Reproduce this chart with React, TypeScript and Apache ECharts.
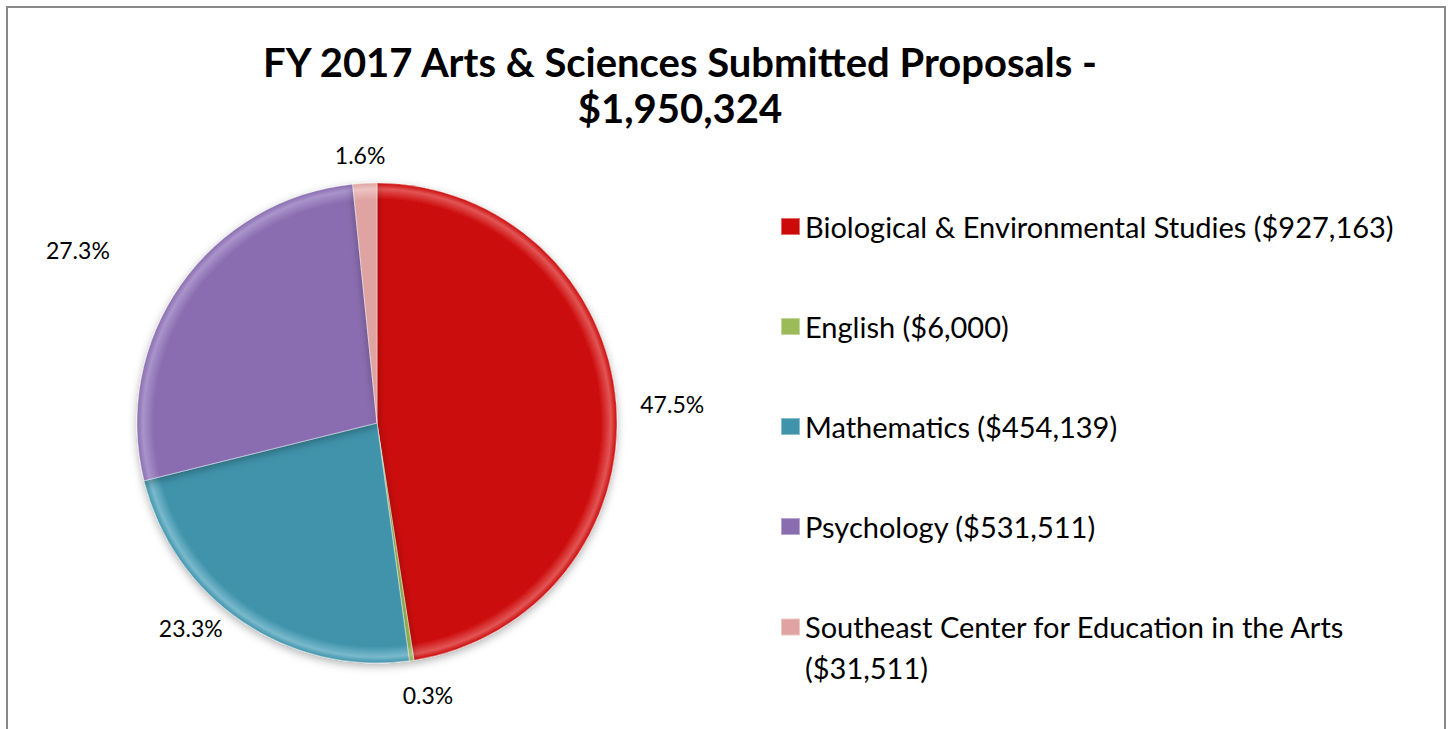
import React, { useEffect, useRef } from "react";
import * as echarts from "echarts";

const titleLines = ["FY 2017 Arts & Sciences Submitted Proposals -", "$1,950,324"];
const categories = [
  "Biological & Environmental Studies",
  "English",
  "Mathematics",
  "Psychology",
  "Southeast Center for Education in the Arts",
];
const amounts = [927163, 6000, 454139, 531511, 31511];
const sliceColors = ["#CC0A0A", "#9BBB59", "#3F93AB", "#8A6DB0", "#DFA3A1"];
const rimColors = ["#E25555", "#B9D48A", "#79B9CC", "#A994CB", "#EDC4C3"];

// label placement tweaks (label line lengths / distance), per slice
const labelTweaks = [
  { len: 0, len2: 19, dist: 5 },
  { len: 35, len2: 0, dist: -14 },
  { len: 8, len2: 10, dist: 5 },
  { len: 61, len2: 16, dist: 5 },
  { len: 28, len2: 0, dist: -22 },
];

const FONT = "Lato, 'Liberation Sans', sans-serif";
const PIE_CX = 377;
const PIE_CY = 423;
const PIE_R = 240;

function fmtMoney(v: number) {
  return "$" + v.toLocaleString("en-US");
}

export default function App() {
  const ref = useRef<HTMLDivElement>(null);
  useEffect(() => {
    if (!ref.current) return;
    const chart = echarts.init(ref.current, undefined, { renderer: "svg" });
    const valueByName: Record<string, number> = {};
    categories.forEach((c, i) => (valueByName[c] = amounts[i]));
    chart.setOption({
      animation: false,
      backgroundColor: "transparent",
      title: {
        text: titleLines.join("\n"),
        left: 680,
        top: 39,
        padding: 0,
        textAlign: "center",
        textStyle: {
          fontFamily: FONT,
          fontWeight: "bold",
          fontSize: 40,
          lineHeight: 46,
          color: "#000",
        },
      },
      legend: {
        orient: "vertical",
        left: 780,
        top: 212,
        padding: 0,
        itemGap: 71,
        itemWidth: 19,
        itemHeight: 17,
        icon: "rect",
        selectedMode: false,
        data: categories.map((c, i) => ({ name: c, itemStyle: { color: sliceColors[i] } })),
        formatter: (name: string) => {
          const v = fmtMoney(valueByName[name]);
          return name.length > 40
            ? `{a|${name}}\n{b|(${v})}`
            : `{a|${name} (${v})}`;
        },
        textStyle: {
          fontFamily: FONT,
          fontSize: 29,
          color: "#000",
          rich: {
            a: { fontFamily: FONT, fontSize: 29, lineHeight: 40, color: "#000" },
            b: {
              fontFamily: FONT,
              fontSize: 29,
              lineHeight: 1,
              padding: [40, 0, 0, 0],
              color: "#000",
            },
          },
        },
      },
      series: [
        {
          type: "pie",
          center: [PIE_CX, PIE_CY],
          radius: PIE_R,
          startAngle: 90,
          clockwise: true,
          avoidLabelOverlap: false,
          percentPrecision: 1,
          itemStyle: {
            borderColor: "rgba(255,255,255,0.4)",
            borderWidth: 1,
            shadowBlur: 8,
            shadowOffsetY: 3,
            shadowColor: "rgba(0,0,0,0.3)",
          },
          label: {
            show: true,
            position: "outside",
            alignTo: "none",
            formatter: "{d}%",
            fontFamily: FONT,
            fontSize: 23,
            color: "#000",
          },
          labelLine: { show: false },
          emphasis: { disabled: true },
          data: categories.map((c, i) => ({
            name: c,
            value: amounts[i],
            itemStyle: {
              color: {
                type: "radial",
                x: PIE_CX,
                y: PIE_CY,
                r: PIE_R,
                global: true,
                colorStops: [
                  { offset: 0, color: sliceColors[i] },
                  { offset: 0.93, color: sliceColors[i] },
                  { offset: 0.975, color: rimColors[i] },
                  { offset: 1, color: sliceColors[i] },
                ],
              },
            },
            label: { distanceToLabelLine: labelTweaks[i].dist },
            labelLine: { show: false, length: labelTweaks[i].len, length2: labelTweaks[i].len2 },
          })),
        },
      ],
    });
    return () => chart.dispose();
  }, []);

  return (
    <div
      style={{
        position: "fixed",
        left: 0,
        top: 0,
        width: 1452,
        height: 729,
        background: "#fff",
        overflow: "hidden",
      }}
    >
      <div
        style={{
          position: "absolute",
          left: 6,
          top: 6,
          width: 1436,
          height: 760,
          border: "2px solid #898989",
        }}
      />
      <div
        ref={ref}
        style={{ position: "absolute", left: 0, top: 0, width: 1452, height: 729 }}
      />
    </div>
  );
}
